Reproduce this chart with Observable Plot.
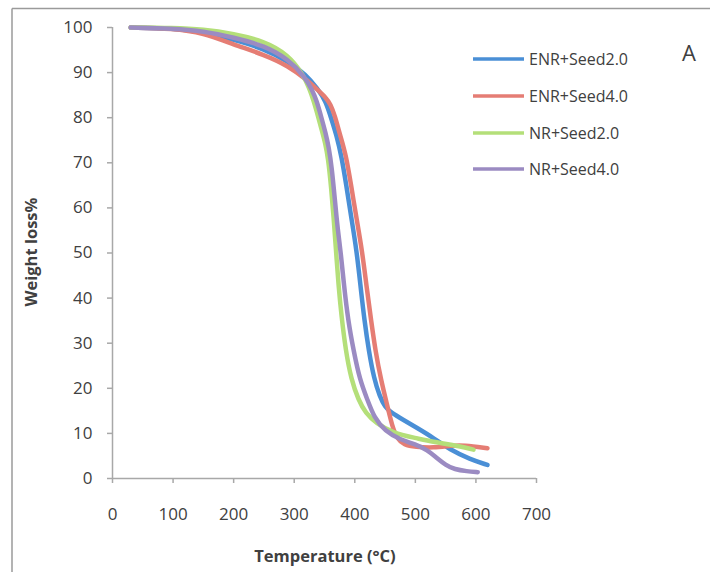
<!DOCTYPE html>
<html>
<head>
<meta charset="utf-8">
<script src="https://cdn.jsdelivr.net/npm/d3@7"></script>
<script src="https://cdn.jsdelivr.net/npm/@observablehq/plot@0.6"></script>
<style>
  html, body { margin: 0; padding: 0; background: #fff; }
  #chart { width: 710px; height: 572px; position: relative; }
</style>
</head>
<body>
<div id="chart"></div>
<script>
// Series names and colours
const seriesNames = ["ENR+Seed2.0", "ENR+Seed4.0", "NR+Seed2.0", "NR+Seed4.0"];
const seriesColors = ["#4a8fd6", "#e57d74", "#b4df79", "#9b8bc2"];

// Axis ticks
const xTicks = [0, 100, 200, 300, 400, 500, 600, 700];
const yTicks = [0, 10, 20, 30, 40, 50, 60, 70, 80, 90, 100];

// Temperature (°C) / weight values
const enr20T = [30, 100, 150, 200, 250, 290, 320, 338, 352, 363, 370, 378, 386, 394, 403, 410, 416, 423, 432, 441, 450, 460, 480, 503, 530, 558, 590, 619];
const enr20W = [100, 99.8, 99, 97.3, 95.3, 92.5, 89.5, 86.5, 83.8, 79, 76, 71.5, 65, 58, 50.6, 42, 35, 28.4, 22, 18.3, 15.8, 14.6, 13, 11.2, 9, 6.3, 4.3, 3];

const enr40T = [30, 100, 150, 200, 250, 290, 320, 340, 352, 360, 367, 376, 385, 394, 403, 412, 420, 427, 434, 443, 454, 462, 470, 481, 500, 530, 560, 580, 619];
const enr40W = [100, 99.8, 98.8, 96.2, 94, 91.5, 88.5, 86, 84.5, 83, 80.5, 76, 72, 65, 57.5, 50.6, 42, 35, 28.4, 22, 16, 11.5, 8.8, 7.5, 7, 6.8, 7.3, 7.4, 6.7];

const nr20T = [30, 100, 150, 200, 250, 290, 315, 325, 332, 340, 346, 351, 356, 361, 365, 369, 373, 378, 385, 394, 406, 418, 435, 464, 500, 530, 560, 596];
const nr20W = [100, 99.9, 99.6, 98.6, 97, 94, 89.5, 86.5, 83.8, 80, 77, 74.5, 71, 64.5, 58, 50.6, 43, 36, 28.4, 22, 17.4, 14.5, 12.3, 10, 9, 8.1, 7.5, 6.4];

const nr40T = [30, 100, 150, 200, 250, 290, 318, 330, 337, 345, 352, 357, 362, 367, 372, 377, 382, 389, 398, 408, 421, 432, 450, 475, 500, 520, 535, 550, 565, 585, 603];
const nr40W = [100, 99.8, 99.2, 97.8, 96, 93, 89, 86, 83.8, 80, 76.5, 73.5, 69, 62, 55, 50, 43, 35, 28.4, 22, 17.4, 13.5, 10.5, 8.6, 7.6, 6.3, 4.6, 3.0, 2.0, 1.6, 1.4];

const seriesT = [enr20T, enr40T, nr20T, nr40T];
const seriesW = [enr20W, enr40W, nr20W, nr40W];

const data = [];
seriesNames.forEach((name, i) => {
  seriesT[i].forEach((t, j) => data.push({series: name, T: t, W: seriesW[i][j]}));
});

const font = "'Open Sans', 'Liberation Sans', sans-serif";
const axisColor = "#a8a8a8";
const textColor = "#404040";

const plot = Plot.plot({
  width: 710,
  height: 572,
  marginTop: 27,
  marginBottom: 94,
  marginLeft: 112,
  marginRight: 174,
  style: {fontFamily: font, fontSize: "17px", color: textColor, background: "#fff"},
  x: {domain: [0, 700], ticks: xTicks, label: null},
  y: {domain: [0, 100], ticks: yTicks, label: null},
  color: {domain: seriesNames, range: seriesColors},
  marks: [
    Plot.line(data, {x: "T", y: "W", stroke: "series", z: "series", strokeWidth: 4.5, curve: "basis", strokeLinecap: "round", strokeLinejoin: "round"}),
    Plot.axisX({ticks: xTicks, tickSize: 5, tickPadding: 24, stroke: axisColor, fill: textColor, fontSize: 17, label: null, strokeWidth: 1.5}),
    Plot.axisY({ticks: yTicks, tickSize: 5, tickPadding: 15, stroke: axisColor, fill: textColor, fontSize: 17, label: null, strokeWidth: 1.5}),
    Plot.ruleY([0], {stroke: axisColor, strokeWidth: 1.5}),
    Plot.ruleX([0], {stroke: axisColor, strokeWidth: 1.5})
  ]
});

document.getElementById("chart").appendChild(plot);

// Decorations: frame lines, axis titles, legend, panel letter
const svg = d3.select(plot);
svg.append("line").attr("x1", 12).attr("x2", 710).attr("y1", 8.5).attr("y2", 8.5)
  .attr("stroke", "#9a9a9a").attr("stroke-width", 1.5);
svg.append("line").attr("x1", 12).attr("x2", 12).attr("y1", 8.5).attr("y2", 572)
  .attr("stroke", "#9a9a9a").attr("stroke-width", 1.5);

svg.append("text").text("Temperature (°C)")
  .attr("x", 325).attr("y", 562).attr("text-anchor", "middle")
  .attr("font-family", font).attr("font-size", 16.5).attr("font-weight", "bold").attr("fill", textColor);

svg.append("text").text("Weight loss%")
  .attr("transform", "translate(37,252) rotate(-90)").attr("text-anchor", "middle")
  .attr("font-family", font).attr("font-size", 16.5).attr("font-weight", "bold").attr("fill", textColor);

svg.append("text").text("A")
  .attr("x", 689).attr("y", 61).attr("text-anchor", "middle")
  .attr("font-family", font).attr("font-size", 22).attr("fill", textColor);

const legendY = [59, 96, 133, 169];
seriesNames.forEach((name, i) => {
  const g = svg.append("g");
  g.append("line").attr("x1", 473).attr("x2", 524).attr("y1", legendY[i]).attr("y2", legendY[i])
    .attr("stroke", seriesColors[i]).attr("stroke-width", 3.5);
  g.append("text").text(name).attr("x", 529).attr("y", legendY[i]).attr("dy", "0.36em")
    .attr("text-anchor", "start")
    .attr("font-family", font).attr("font-size", 16).attr("fill", textColor);
});
</script>
</body>
</html>
